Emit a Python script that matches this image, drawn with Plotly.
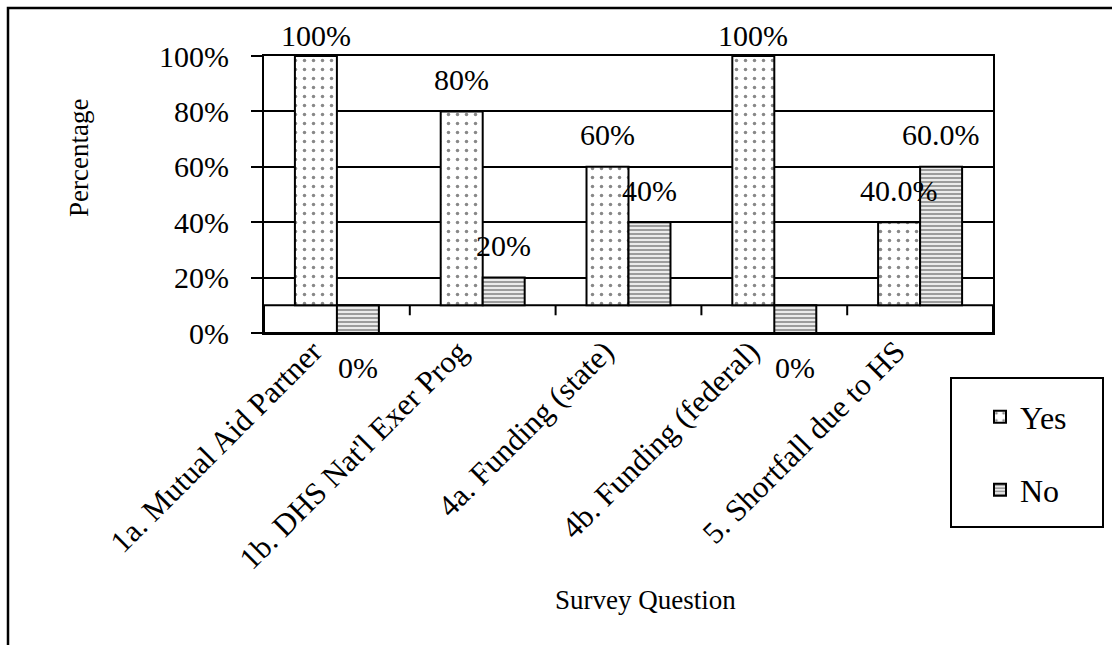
import plotly.graph_objects as go

# Survey results: share of respondents answering Yes / No per question
questions = [
    "1a. Mutual Aid Partner",
    "1b. DHS Nat'l Exer Prog",
    "4a. Funding (state)",
    "4b. Funding (federal)",
    "5. Shortfall due to HS",
]
yes_pct = [100, 80, 60, 100, 40]
no_pct = [0, 20, 40, 0, 60]
label_decimals = [0, 0, 0, 0, 1]

y_ticks = [0, 20, 40, 60, 80, 100]
FLOOR = 10  # height of the chart floor band, in axis units

FONT = "Liberation Serif, Times New Roman, serif"

# plot-area geometry (pixels)
L, R, T, B = 264, 119, 56, 312
W, H = 1112, 645
PW, PH = W - L - R, H - T - B


def px_x(px):
    return (px - L) / PW


def px_y(py):
    return (H - B - py) / PH


def bar_spans(values):
    bases, lengths = [], []
    for v in values:
        if v > FLOOR:
            bases.append(FLOOR)
            lengths.append(v - FLOOR)
        else:
            bases.append(0)
            lengths.append(FLOOR)
    return bases, lengths


yes_base, yes_len = bar_spans(yes_pct)
no_base, no_len = bar_spans(no_pct)

fig = go.Figure()
fig.add_trace(go.Bar(
    name="Yes", x=questions, y=yes_len, base=yes_base,
    marker=dict(color="white",
                line=dict(color="black", width=2),
                pattern=dict(shape=".", fgcolor="#111", bgcolor="white",
                             size=9, solidity=0.12)),
    legend="legend",
))
fig.add_trace(go.Bar(
    name="No", x=questions, y=no_len, base=no_base,
    marker=dict(color="white",
                line=dict(color="black", width=2),
                pattern=dict(shape="-", fgcolor="#3a3a3a", bgcolor="white",
                             size=4, solidity=0.6)),
    legend="legend2",
))

# value labels
annotations = []
for series, offset in ((yes_pct, -21), (no_pct, 21)):
    for q, v, d in zip(questions, series, label_decimals):
        if v == 0:
            shift = -34
        elif v >= 100:
            shift = 21
        else:
            shift = 32
        annotations.append(dict(
            x=q, y=v, xref="x", yref="y", text=f"{v:.{d}f}%",
            showarrow=False, xshift=offset, yshift=shift,
            font=dict(family=FONT, size=30, color="black"),
            xanchor="center", yanchor="middle",
        ))

# axis titles
annotations.append(dict(
    x=px_x(62), y=px_y(158), xref="paper", yref="paper", text="Percentage",
    textangle=-90, showarrow=False,
    font=dict(family=FONT, size=27, color="black"),
))
annotations.append(dict(
    x=px_x(645), y=px_y(617), xref="paper", yref="paper", text="Survey Question",
    showarrow=False, font=dict(family=FONT, size=27, color="black"),
))

shapes = [
    # floor band
    dict(type="rect", xref="x", yref="y", x0=-0.5, x1=len(questions) - 0.5,
         y0=0, y1=FLOOR, line=dict(color="black", width=2),
         fillcolor="white", layer="below"),
    # outer frame
    dict(type="rect", xref="paper", yref="paper", x0=px_x(8), x1=px_x(1140),
         y0=px_y(680), y1=px_y(8), line=dict(color="black", width=2.5),
         fillcolor="rgba(0,0,0,0)"),
    # legend box
    dict(type="rect", xref="paper", yref="paper", x0=px_x(951), x1=px_x(1103),
         y0=px_y(527), y1=px_y(378), line=dict(color="black", width=2),
         fillcolor="white", layer="below"),
]
# category divider ticks on the floor
for i in range(len(questions) - 1):
    shapes.append(dict(type="line", xref="x", yref="y", x0=i + 0.5, x1=i + 0.5,
                       y0=FLOOR, y1=FLOOR - 3.6,
                       line=dict(color="black", width=2)))

fig.update_layout(
    width=W, height=H,
    margin=dict(l=L, r=R, t=T, b=B),
    paper_bgcolor="white", plot_bgcolor="white",
    barmode="group", bargap=0.424, bargroupgap=0,
    font=dict(family=FONT, color="black"),
    annotations=annotations,
    shapes=shapes,
    showlegend=True,
    legend=dict(x=px_x(980), y=px_y(417), xanchor="left", yanchor="middle",
                bgcolor="rgba(0,0,0,0)", borderwidth=0,
                font=dict(family=FONT, size=32, color="black")),
    legend2=dict(x=px_x(980), y=px_y(490), xanchor="left", yanchor="middle",
                 bgcolor="rgba(0,0,0,0)", borderwidth=0,
                 font=dict(family=FONT, size=32, color="black")),
    xaxis=dict(
        range=[-0.5, len(questions) - 0.5],
        showline=True, linecolor="black", linewidth=2, mirror=True,
        showgrid=False, ticks="", tickangle=-45,
        ticklabelshift=-24, ticklabelstandoff=-14,
        tickfont=dict(family=FONT, size=31, color="black"),
        automargin=False,
    ),
    yaxis=dict(
        range=[0, 100], tickvals=y_ticks,
        ticktext=[f"{v}%" for v in y_ticks],
        showline=True, linecolor="black", linewidth=2, mirror=True,
        showgrid=True, gridcolor="black", gridwidth=2, zeroline=False,
        ticks="outside", ticklen=11, tickwidth=2, tickcolor="black",
        ticklabelstandoff=16,
        tickfont=dict(family=FONT, size=30, color="black"),
        automargin=False,
    ),
)

fig.write_html("out.html")
